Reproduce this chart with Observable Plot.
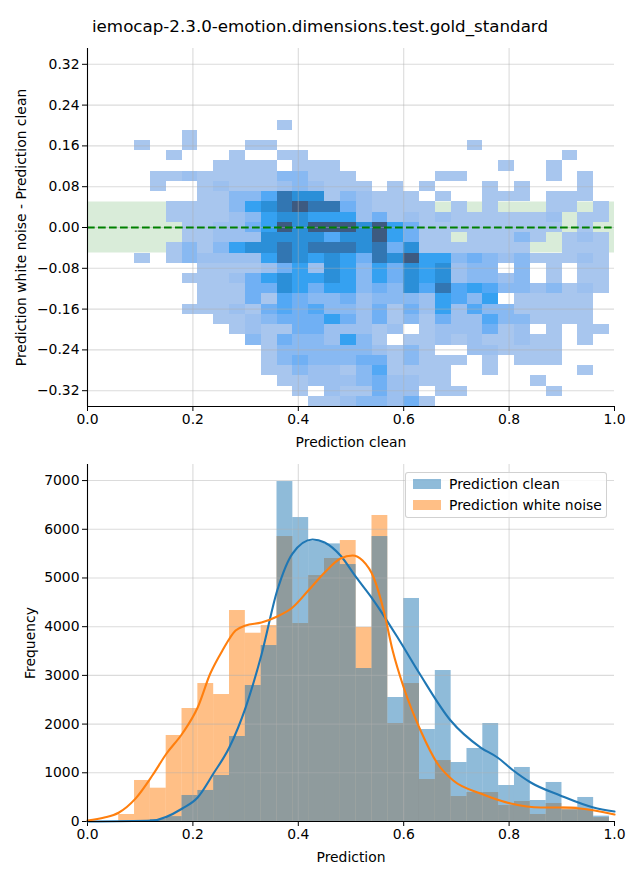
<!DOCTYPE html>
<html>
<head>
<meta charset="utf-8">
<script src="https://cdn.jsdelivr.net/npm/d3@7"></script>
<script src="https://cdn.jsdelivr.net/npm/@observablehq/plot@0.6"></script>
<style>
  body { margin: 0; background: #fff; font-family: "DejaVu Sans", sans-serif; }
  #root { position: relative; width: 640px; height: 880px; overflow: hidden; background: #fff; }
  #title { position: absolute; left: 0; top: 16px; width: 640px; text-align: center; font-size: 16.7px; line-height: 20px; color: #000; }
  #top { position: absolute; left: 0; top: 40px; }
  #bottom { position: absolute; left: 0; top: 460px; }
  #legend { position: absolute; left: 405px; top: 472px; width: 200px; height: 44px; border: 1px solid rgba(204,204,204,0.9); border-radius: 3px; background: rgba(255,255,255,0.8); font-size: 13.9px; color: #000; }
  .item { position: absolute; left: 0; height: 20px; line-height: 20px; }
  .sw { position: absolute; left: 7px; top: 5px; width: 28px; height: 10px; }
  .lab { position: absolute; left: 43px; top: 0; white-space: nowrap; }
</style>
</head>
<body>
<div id="root">
  <div id="title">iemocap-2.3.0-emotion.dimensions.test.gold_standard</div>
  <div id="top"></div>
  <div id="bottom"></div>
  <div id="legend">
    <div class="item" style="top:1px"><div class="sw" style="background:rgba(31,119,180,0.5)"></div><div class="lab">Prediction clean</div></div>
    <div class="item" style="top:22px"><div class="sw" style="background:rgba(255,127,14,0.5)"></div><div class="lab">Prediction white noise</div></div>
  </div>
</div>
<script>
// ---------- shared ticks ----------
const xTicks = [0, 0.2, 0.4, 0.6, 0.8, 1.0];
const yTicksTop = [0.32, 0.24, 0.16, 0.08, 0, -0.08, -0.16, -0.24, -0.32];
const yTicksBottom = [0, 1000, 2000, 3000, 4000, 5000, 6000, 7000];

// ---------- top panel: 2D histogram (difference vs clean) ----------
const xBinStart = 0.0893, xBinWidth = 0.03004;   // 30 columns
const yBinStart = -0.351, yBinHeight = 0.02006;  // 35 rows
const yDomainTop = [-0.351, 0.351];
const bandLow = -0.05, bandHigh = 0.05, zeroLine = 0;
// colour level per cell (0 = empty), rows listed top (row 34) to bottom (row 0)
const heatRowsTopDown = [
  "000000000000000000000000000000",
  "000000000000000000000000000000",
  "000000000000000000000000000000",
  "000000000000000000000000000000",
  "000000000000000000000000000000",
  "000000000000000000000000000000",
  "000000000000000000000000000000",
  "000000000100000000000000000000",
  "000100000000000000000000000000",
  "100100011000000000000100000000",
  "001000100110000000000000000100",
  "000001111011100000000001001000",
  "011211111331110000011000001010",
  "010012111232111010100010100010",
  "000011335877132111010011101110",
  "001111367898842111101010001101",
  "001111236776662412121111112011",
  "000112246979997964111111111010",
  "000112227777577964110111310121",
  "001313677878887847111111100111",
  "101322226876764879663432311121",
  "000011112462763647672330301011",
  "000111246766763647672332301011",
  "000011144764663437585653323121",
  "000011141543342333265360111110",
  "000111214545332414262533111110",
  "000001123444642413142253311110",
  "000000121144222120122241201011",
  "000000031433263101121211211010",
  "000000001333333213100221111000",
  "000000001343334413111010111000",
  "000000001132213511110010000010",
  "000000000112223422110000010000",
  "000000000010211422011000001000",
  "000000000001123324100000000000"
];
const heatLevels = [1, 2, 3, 4, 5, 6, 7, 8, 9];
const heatColors = ["#a8c6ee", "#9cc0ef", "#88b9f2", "#70b0f4", "#52a8f5", "#35a1f1", "#2b8fd8", "#3276b2", "#3d5a80"];

const cells = [];
heatRowsTopDown.forEach((row, i) => {
  const r = heatRowsTopDown.length - 1 - i;
  [...row].forEach((ch, c) => {
    const level = +ch;
    if (level > 0) cells.push({
      x1: xBinStart + c * xBinWidth, x2: xBinStart + (c + 1) * xBinWidth,
      y1: yBinStart + r * yBinHeight, y2: yBinStart + (r + 1) * yBinHeight, level
    });
  });
});
const band = [{x1: xTicks[0], x2: xTicks[xTicks.length - 1], y1: bandLow, y2: bandHigh}];

// ---------- bottom panel: histograms + KDE ----------
const binStart = 0.0592, binWidth = 0.03004; // 31 bins
const cleanCounts = [0, 15, 40, 100, 534, 637, 944, 1745, 2792, 3613, 6980, 6241, 5750, 5700, 5276, 3141, 5851, 2546, 4579, 1889, 3100, 1211, 1499, 2012, 739, 1109, 431, 801, 240, 493, 110];
const noiseCounts = [144, 842, 684, 1766, 2320, 2833, 2607, 4332, 3866, 4024, 5851, 4065, 5050, 5400, 5769, 3983, 6283, 2012, 2833, 862, 1252, 513, 595, 595, 328, 411, 144, 370, 300, 246, 80];
const bins = cleanCounts.map((v, k) => ({x1: binStart + k * binWidth, x2: binStart + (k + 1) * binWidth, clean: v, noise: noiseCounts[k]}));

const cleanKdeX = [0.0, 0.123, 0.18, 0.209, 0.239, 0.269, 0.300, 0.330, 0.360, 0.389, 0.427, 0.450, 0.480, 0.510, 0.543, 0.592, 0.630, 0.689, 0.746, 0.778, 0.808, 0.841, 0.897, 0.960, 1.0];
const cleanKdeY = [0, 20, 267, 493, 985, 1519, 2340, 3420, 4742, 5502, 5790, 5728, 5461, 5010, 4537, 3716, 3038, 2073, 1519, 1314, 1047, 801, 534, 287, 205];
const noiseKdeX = [0.0, 0.032, 0.059, 0.091, 0.123, 0.150, 0.180, 0.209, 0.233, 0.256, 0.281, 0.300, 0.330, 0.360, 0.389, 0.419, 0.450, 0.480, 0.503, 0.522, 0.543, 0.562, 0.579, 0.600, 0.632, 0.664, 0.694, 0.746, 0.803, 0.860, 0.903, 0.935, 1.0];
const noiseKdeY = [20, 80, 180, 470, 944, 1396, 1807, 2340, 3038, 3510, 3921, 4024, 4085, 4209, 4393, 4742, 5112, 5400, 5461, 5358, 5010, 4332, 3510, 2751, 1868, 1191, 842, 575, 370, 287, 287, 267, 144];
const cleanKde = cleanKdeX.map((x, i) => ({x, y: cleanKdeY[i]}));
const noiseKde = noiseKdeX.map((x, i) => ({x, y: noiseKdeY[i]}));
const yDomainBottom = [0, 7330];

const gridStyle = {stroke: "#b0b0b0", strokeOpacity: 0.45, strokeWidth: 1.1};
const spine = {stroke: "#000", strokeWidth: 1.1};
const baseStyle = {fontFamily: "DejaVu Sans", fontSize: "13.9px", color: "#000", background: "transparent", overflow: "visible"};

const topPlot = Plot.plot({
  width: 640, height: 420,
  marginTop: 8, marginBottom: 54, marginLeft: 87, marginRight: 26,
  style: baseStyle,
  x: {domain: [0, 1], ticks: xTicks, tickFormat: d3.format(".1f"), tickSize: 5, tickPadding: 3,
      label: "Prediction clean", labelAnchor: "center", labelOffset: 40, labelArrow: "none"},
  y: {domain: yDomainTop, ticks: yTicksTop, tickFormat: d3.format(".2f"), tickSize: 5, tickPadding: 3,
      label: "Prediction white noise - Prediction clean", labelAnchor: "center", labelOffset: 71, labelArrow: "none"},
  color: {type: "linear", domain: heatLevels, range: heatColors},
  marks: [
    Plot.rect(band, {x1: "x1", x2: "x2", y1: "y1", y2: "y2", fill: "#008000", fillOpacity: 0.15}),
    Plot.rect(cells, {x1: "x1", x2: "x2", y1: "y1", y2: "y2", fill: "level", inset: 0, shapeRendering: "crispEdges"}),
    Plot.ruleX(xTicks.slice(1, -1), gridStyle),
    Plot.ruleY(yTicksTop, gridStyle),
    Plot.ruleY([zeroLine], {stroke: "#008000", strokeWidth: 2.1, strokeDasharray: "7.7,3.3"}),
    Plot.ruleX([0], spine),
    Plot.ruleY([yDomainTop[0]], spine)
  ]
});
document.getElementById("top").appendChild(topPlot);

const bottomPlot = Plot.plot({
  width: 640, height: 420,
  marginTop: 4, marginBottom: 59, marginLeft: 87, marginRight: 26,
  style: baseStyle,
  x: {domain: [0, 1], ticks: xTicks, tickFormat: d3.format(".1f"), tickSize: 5, tickPadding: 3,
      label: "Prediction", labelAnchor: "center", labelOffset: 40, labelArrow: "none"},
  y: {domain: yDomainBottom, ticks: yTicksBottom, tickFormat: d3.format("d"), tickSize: 5, tickPadding: 3,
      label: "Frequency", labelAnchor: "center", labelOffset: 62, labelArrow: "none"},
  marks: [
    Plot.rectY(bins, {x1: "x1", x2: "x2", y: "noise", fill: "#ff7f0e", fillOpacity: 0.5, inset: 0}),
    Plot.rectY(bins, {x1: "x1", x2: "x2", y: "clean", fill: "#1f77b4", fillOpacity: 0.5, inset: 0}),
    Plot.ruleX(xTicks.slice(1, -1), gridStyle),
    Plot.ruleY(yTicksBottom.slice(1), gridStyle),
    Plot.line(cleanKde, {x: "x", y: "y", stroke: "#1f77b4", strokeWidth: 2.1, curve: "monotone-x"}),
    Plot.line(noiseKde, {x: "x", y: "y", stroke: "#ff7f0e", strokeWidth: 2.1, curve: "monotone-x"}),
    Plot.ruleX([0], spine),
    Plot.ruleY([0], spine)
  ]
});
document.getElementById("bottom").appendChild(bottomPlot);
</script>
</body>
</html>
